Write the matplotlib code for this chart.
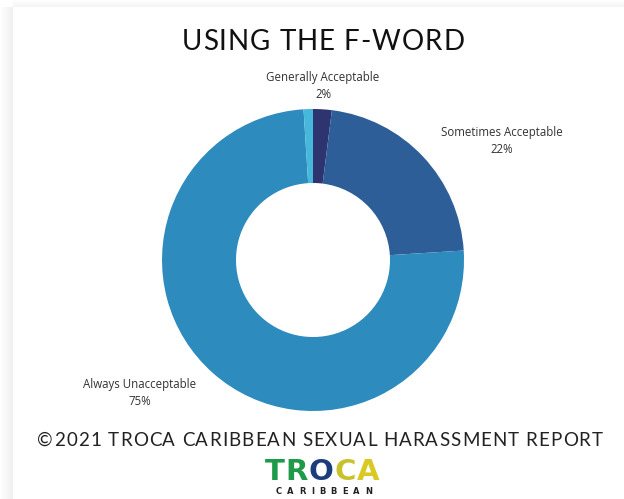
import matplotlib
matplotlib.use("Agg")
import matplotlib.pyplot as plt
from matplotlib.patches import Rectangle
from matplotlib.font_manager import FontProperties

# Data
categories = ["Generally Acceptable", "Sometimes Acceptable", "Always Unacceptable", "Other"]
values = [2, 22, 75, 1]
label_text = ["Generally Acceptable\n2%", "Sometimes Acceptable\n22%", "Always Unacceptable\n75%", ""]
colors = ["#2e3470", "#2e5e98", "#2e8bbd", "#45b8db"]

title = "USING THE F-WORD"
footer = "©2021 TROCA CARIBBEAN SEXUAL HARASSMENT REPORT"
logo_letters = ["T", "R", "O", "C", "A"]
logo_colors = ["#1f9a4a", "#1f9a4a", "#1b3d7e", "#c9c12a", "#d8ca22"]
logo_sub = "CARIBBEAN"

W, H = 624, 499
fig = plt.figure(figsize=(W / 100, H / 100), dpi=100)
fig.patch.set_facecolor("white")
renderer = fig.canvas.get_renderer()


def char_width(c, prop):
    if c == " ":
        w1 = renderer.get_text_width_height_descent("a a", prop, ismath=False)[0]
        w2 = renderer.get_text_width_height_descent("aa", prop, ismath=False)[0]
        return w1 - w2
    return renderer.get_text_width_height_descent(c, prop, ismath=False)[0]


def tracked(text, cx, cy, prop, target_width, colors_per_char=None, color="#222222"):
    widths = [char_width(c, prop) for c in text]
    n = len(text)
    gap = (target_width - sum(widths)) / (n - 1) if n > 1 else 0
    x = cx - target_width / 2
    for i, (c, w) in enumerate(zip(text, widths)):
        col = colors_per_char[i] if colors_per_char else color
        if c != " ":
            fig.text(x / W, 1 - cy / H, c, ha="left", va="center",
                     fontproperties=prop, color=col)
        x += w + gap


# card shadow on left and top
for i in range(13):
    a = 0.06 * (1 - i / 13)
    fig.patches.append(Rectangle(((12 - i) / W, 0), 1 / W, 1 - 7 / H, transform=fig.transFigure,
                                 facecolor="black", alpha=a, edgecolor="none"))
for i in range(7):
    a = 0.04 * (1 - i / 7)
    fig.patches.append(Rectangle((13 / W, 1 - (7 - i) / H), 1, 1 / H, transform=fig.transFigure,
                                 facecolor="black", alpha=a, edgecolor="none"))

cx, cy, r = 313, 260, 151
ax = fig.add_axes([(cx - r) / W, (H - cy - r) / H, 2 * r / W, 2 * r / H])
ax.pie(values, colors=colors, startangle=90, counterclock=False,
       wedgeprops=dict(width=0.49, edgecolor="none"), radius=1.0)
ax.set_xlim(-1, 1)
ax.set_ylim(-1, 1)
ax.set_aspect("auto")
ax.axis("off")

label_pos = [(323, 86), (502, 141), (140, 393)]
for txt, (px, py) in zip(label_text, label_pos):
    fig.text(px / W, 1 - py / H, txt, ha="center", va="center", fontsize=8.3,
             family="Open Sans", color="#333333", linespacing=1.4)

tracked(title, 323, 42, FontProperties(family="Lato", size=20), 283, color="#111111")
tracked(footer, 320, 440, FontProperties(family="Lato", size=13.5), 565, color="#222222")

tracked("".join(logo_letters), 322, 472,
        FontProperties(family="DejaVu Sans", weight="bold", size=21), 115,
        colors_per_char=logo_colors)
tracked(logo_sub, 324, 492, FontProperties(family="DejaVu Sans", weight="bold", size=6),
        96, color="#222222")

fig.savefig("out.png", dpi=100, facecolor="white")
